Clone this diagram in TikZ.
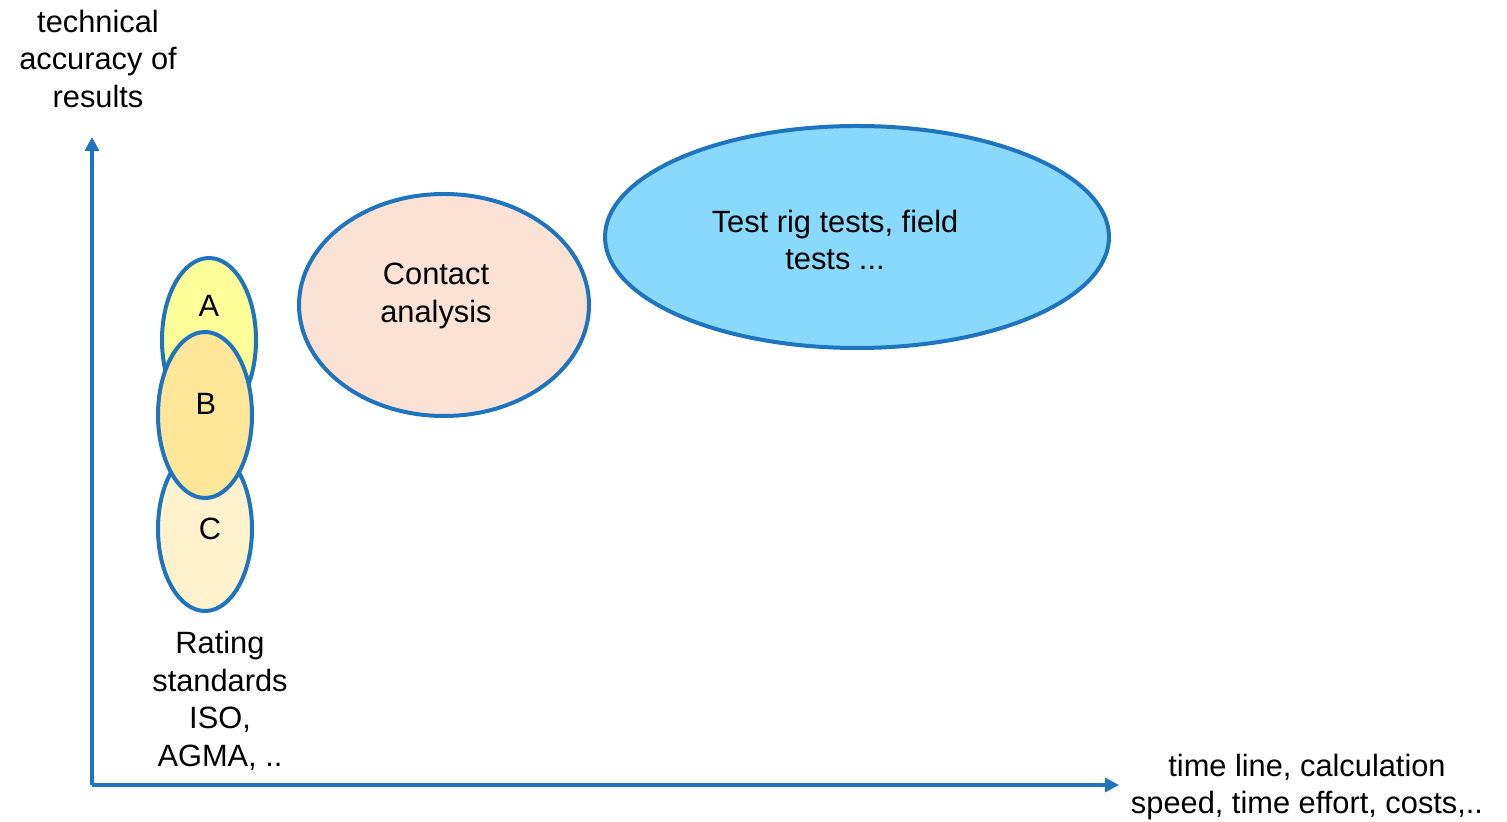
\documentclass[tikz,border=0pt]{standalone}
\usepackage{fontspec}
\setmainfont{Liberation Sans}
\usetikzlibrary{shapes.geometric}
\usetikzlibrary{arrows.meta}
\usetikzlibrary{positioning}

\definecolor{axisblue}{RGB}{31,116,192}
\definecolor{ratingA}{RGB}{255,255,153}
\definecolor{ratingB}{RGB}{255,230,153}
\definecolor{ratingC}{RGB}{255,242,204}
\definecolor{contact}{RGB}{251,226,213}
\definecolor{testrig}{RGB}{137,217,252}

\tikzset{
  blob/.style={ellipse,draw=axisblue,line width=2pt,inner sep=0pt},
  label text/.style={align=center,font=\fontsize{15.4}{18.8}\selectfont},
  axis/.style={draw=axisblue,line width=1.6pt,-{Triangle[length=7pt,width=7pt]}}
}

\begin{document}
\begin{tikzpicture}[x=0.5pt,y=-0.5pt]
 \useasboundingbox (0,0) rectangle (1507,822);

 % axes
 \coordinate (origin) at (92,785);
 \coordinate (ytip)   at (92,137);
 \coordinate (xtip)   at (1119,785);
 \draw[axis] (origin) -- (ytip);
 \draw[axis] (origin) -- (xtip);

 % rating standards A, B, C (B on top)
 \node[blob,fill=ratingA,minimum width=47pt,minimum height=82pt,name=rateA] at (209,340) {};
 \node[blob,fill=ratingC,minimum width=47pt,minimum height=82pt,name=rateC] at (205,529) {};
 \node[blob,fill=ratingB,minimum width=47pt,minimum height=83pt,name=rateB] at (205,415) {};
 \node[label text,name=txtA] at (209,306) {A};
 \node[label text,name=txtB] at (206,404) {B};
 \node[label text,name=txtC] at (210,529) {C};

 \node[blob,fill=contact,minimum width=145pt,minimum height=111pt,name=contact] at (444,305) {};
 \node[label text,name=contacttxt] at (436,296) {Contact\\analysis};

 \node[blob,fill=testrig,minimum width=252pt,minimum height=111pt,name=rig] at (857,237) {};
 \node[label text,name=rigtxt] at (835,240) {Test rig tests, field\\tests ...};

 % axis labels
 \node[label text,name=ylabel] at (98,59)   {technical\\accuracy of\\results};
 \node[label text,name=xlabel] at (1307,787) {time line, calculation\\speed, time effort, costs,..};
 \node[label text,name=rating] at (220,701) {Rating\\standards\\ISO,\\AGMA, ..};
\end{tikzpicture}
\end{document}
